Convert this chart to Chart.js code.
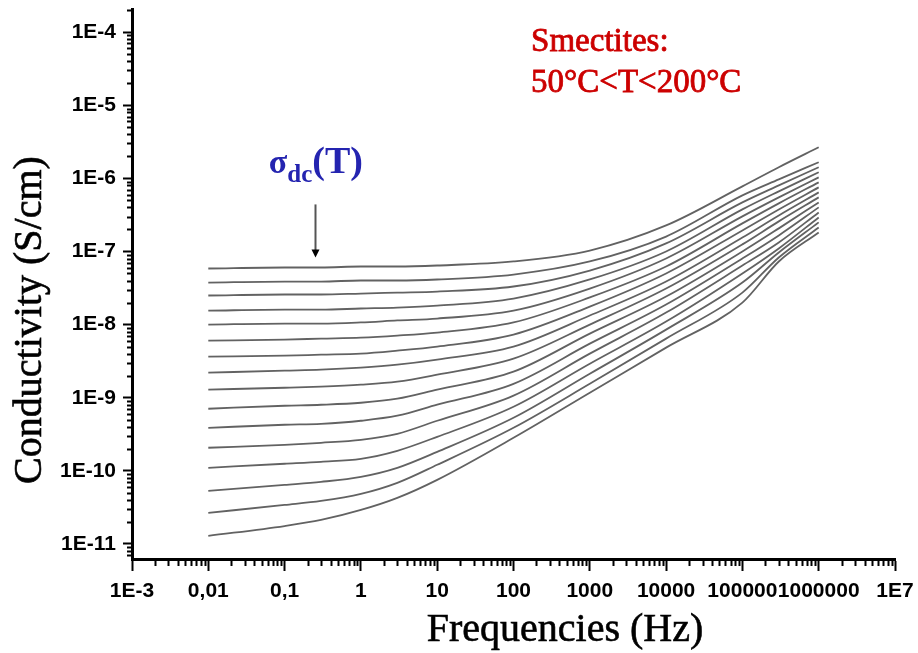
<!DOCTYPE html>
<html>
<head>
<meta charset="utf-8">
<script src="https://cdn.jsdelivr.net/npm/chart.js@4.4.1/dist/chart.umd.min.js"></script>
<style>
  html, body { margin: 0; padding: 0; background: #fff; }
  canvas { display: block; }
</style>
</head>
<body>
<canvas id="condChart" width="918" height="653"></canvas>
<script>
// frequencies (Hz) where the curves were read
var freqs = [0.01, 0.1, 0.3, 1, 3, 10, 100, 1000, 10000, 100000, 300000, 1000000];

// conductivity (S/cm), one curve per temperature, highest first
var curve1  = [5.85e-8, 6.04e-8, 6.04e-8, 6.23e-8, 6.23e-8, 6.43e-8, 7.30e-8, 1.03e-7, 2.27e-7, 7.77e-7, 1.42e-6, 2.66e-6];
var curve2  = [3.76e-8, 3.88e-8, 3.88e-8, 4.01e-8, 4.01e-8, 4.14e-8, 4.84e-8, 7.30e-8, 1.60e-7, 5.85e-7, 9.69e-7, 1.66e-6];
var curve3  = [2.50e-8, 2.58e-8, 2.58e-8, 2.66e-8, 2.74e-8, 2.83e-8, 3.32e-8, 5.49e-8, 1.29e-7, 4.69e-7, 8.02e-7, 1.42e-6];
var curve4  = [1.55e-8, 1.60e-8, 1.60e-8, 1.66e-8, 1.71e-8, 1.82e-8, 2.27e-8, 4.14e-8, 1.00e-7, 3.76e-7, 6.64e-7, 1.21e-6];
var curve5  = [1.00e-8, 1.03e-8, 1.03e-8, 1.07e-8, 1.14e-8, 1.21e-8, 1.55e-8, 3.11e-8, 8.02e-8, 3.02e-7, 5.49e-7, 1.03e-6];
var curve6  = [6.04e-9, 6.23e-9, 6.43e-9, 6.64e-9, 7.07e-9, 7.77e-9, 1.07e-8, 2.35e-8, 6.23e-8, 2.42e-7, 4.55e-7, 8.82e-7];
var curve7  = [3.64e-9, 3.76e-9, 3.88e-9, 4.01e-9, 4.40e-9, 5.00e-9, 7.30e-9, 1.76e-8, 5.00e-8, 1.94e-7, 3.76e-7, 7.53e-7];
var curve8  = [2.20e-9, 2.35e-9, 2.42e-9, 2.58e-9, 2.83e-9, 3.32e-9, 5.00e-9, 1.33e-8, 3.88e-8, 1.55e-7, 3.11e-7, 6.43e-7];
var curve9  = [1.29e-9, 1.37e-9, 1.42e-9, 1.51e-9, 1.66e-9, 2.07e-9, 3.42e-9, 1.00e-8, 3.11e-8, 1.25e-7, 2.58e-7, 5.49e-7];
var curve10 = [7.07e-10, 7.77e-10, 8.02e-10, 8.54e-10, 9.69e-10, 1.29e-9, 2.27e-9, 7.53e-9, 2.42e-8, 1.00e-7, 2.07e-7, 4.69e-7];
var curve11 = [3.88e-10, 4.27e-10, 4.40e-10, 4.84e-10, 5.67e-10, 8.02e-10, 1.55e-9, 5.49e-9, 1.88e-8, 8.02e-8, 1.66e-7, 4.01e-7];
var curve12 = [2.07e-10, 2.27e-10, 2.42e-10, 2.66e-10, 3.21e-10, 4.84e-10, 1.07e-9, 4.01e-9, 1.46e-8, 6.43e-8, 1.33e-7, 3.42e-7];
var curve13 = [1.10e-10, 1.25e-10, 1.33e-10, 1.46e-10, 1.88e-10, 2.92e-10, 7.53e-10, 2.92e-9, 1.10e-8, 5.00e-8, 1.10e-7, 2.92e-7];
var curve14 = [5.32e-11, 6.43e-11, 7.07e-11, 8.28e-11, 1.10e-10, 1.82e-10, 5.32e-10, 2.13e-9, 8.54e-9, 3.76e-8, 9.69e-8, 2.50e-7];
var curve15 = [2.66e-11, 3.42e-11, 3.88e-11, 4.84e-11, 6.85e-11, 1.21e-10, 3.88e-10, 1.55e-9, 6.43e-9, 2.74e-8, 8.28e-8, 2.13e-7];
var curve16 = [1.29e-11, 1.76e-11, 2.13e-11, 2.92e-11, 4.27e-11, 7.53e-11, 2.83e-10, 1.17e-9, 4.84e-9, 2.00e-8, 7.30e-8, 1.82e-7];

var curves = [curve1, curve2, curve3, curve4, curve5, curve6, curve7, curve8,
              curve9, curve10, curve11, curve12, curve13, curve14, curve15, curve16];

var xTickValues = [1e-3, 1e-2, 1e-1, 1, 10, 100, 1000, 1e4, 1e5, 1e6, 1e7];
var xTickLabels = ['1E-3', '0,01', '0,1', '1', '10', '100', '1000', '10000', '100000', '1000000', '1E7'];
var yTickValues = [1e-11, 1e-10, 1e-9, 1e-8, 1e-7, 1e-6, 1e-5, 1e-4];
var yTickLabels = ['1E-11', '1E-10', '1E-9', '1E-8', '1E-7', '1E-6', '1E-5', '1E-4'];

function labelFor(values, labels, v) {
    for (var i = 0; i < values.length; i++) {
        if (Math.abs(Math.log10(values[i]) - Math.log10(v)) < 1e-6) return labels[i];
    }
    return '';
}

var datasets = curves.map(function (c, k) {
    return {
        label: 'curve ' + (k + 1),
        data: freqs.map(function (f, i) { return { x: f, y: c[i] }; }),
        borderColor: '#626262',
        borderWidth: 1.8,
        pointRadius: 0,
        fill: false,
        cubicInterpolationMode: 'monotone'
    };
});

// minor ticks, axis titles and the two notes
var extras = {
    id: 'extras',
    afterDraw: function (chart) {
        var ctx = chart.ctx, xs = chart.scales.x, ys = chart.scales.y, a = chart.chartArea;
        ctx.save();
        ctx.strokeStyle = '#000';
        ctx.lineWidth = 2;
        ctx.beginPath();
        for (var e = -3; e < 7; e++) {
            for (var m = 2; m < 10; m++) {
                var px = Math.round(xs.getPixelForValue(m * Math.pow(10, e))) + 0.5;
                ctx.moveTo(px, a.bottom);
                ctx.lineTo(px, a.bottom + 7);
            }
        }
        for (var e2 = -12; e2 < -3; e2++) {
            for (var m2 = 2; m2 < 10; m2++) {
                var v = m2 * Math.pow(10, e2);
                if (v < ys.min || v > ys.max) continue;
                var py = Math.round(ys.getPixelForValue(v)) + 0.5;
                ctx.moveTo(a.left, py);
                ctx.lineTo(a.left - 5, py);
            }
        }
        ctx.stroke();

        // axis titles
        ctx.fillStyle = '#000';
        ctx.strokeStyle = '#000';
        ctx.lineWidth = 0.6;
        ctx.font = '40px "Liberation Serif"';
        ctx.textAlign = 'center';
        ctx.textBaseline = 'middle';
        ctx.fillText('Frequencies (Hz)', 565, 630);
        ctx.strokeText('Frequencies (Hz)', 565, 630);
        ctx.save();
        ctx.translate(30, 320);
        ctx.rotate(-Math.PI / 2);
        ctx.fillText('Conductivity (S/cm)', 0, 0);
        ctx.strokeText('Conductivity (S/cm)', 0, 0);
        ctx.restore();

        // sample note
        ctx.textAlign = 'left';
        ctx.textBaseline = 'alphabetic';
        ctx.fillStyle = '#cc0000';
        ctx.strokeStyle = '#cc0000';
        ctx.lineWidth = 0.8;
        ctx.font = '33px "Liberation Serif"';
        var nx = xs.getPixelForValue(170);
        var ny1 = ys.getPixelForValue(5.5e-5), ny2 = ys.getPixelForValue(1.5e-5);
        ctx.fillText('Smectites:', nx, ny1);
        ctx.strokeText('Smectites:', nx, ny1);
        ctx.fillText('50\u00B0C<T<200\u00B0C', nx, ny2);
        ctx.strokeText('50\u00B0C<T<200\u00B0C', nx, ny2);

        // sigma_dc(T) label
        ctx.fillStyle = '#2424b0';
        var sx = xs.getPixelForValue(0.062), sy = ys.getPixelForValue(1.17e-6);
        ctx.font = 'bold 34px "Liberation Serif"';
        ctx.fillText('\u03C3', sx, sy);
        sx += ctx.measureText('\u03C3').width;
        ctx.font = 'bold 25px "Liberation Serif"';
        ctx.fillText('dc', sx, sy + 9);
        sx += ctx.measureText('dc').width;
        ctx.font = 'bold 38px "Liberation Serif"';
        ctx.fillText('(T)', sx, sy);

        // arrow
        var ax = Math.round(xs.getPixelForValue(0.25)) + 0.5;
        var ay0 = ys.getPixelForValue(4.4e-7), ay1 = ys.getPixelForValue(8.3e-8);
        ctx.strokeStyle = '#555';
        ctx.lineWidth = 2;
        ctx.beginPath();
        ctx.moveTo(ax, ay0);
        ctx.lineTo(ax, ay1 - 6);
        ctx.stroke();
        ctx.fillStyle = '#000';
        ctx.beginPath();
        ctx.moveTo(ax - 4, ay1 - 8);
        ctx.lineTo(ax + 4, ay1 - 8);
        ctx.lineTo(ax, ay1);
        ctx.closePath();
        ctx.fill();
        ctx.restore();
    }
};

var whiteBg = {
    id: 'whiteBg',
    beforeDraw: function (chart) {
        var ctx = chart.ctx;
        ctx.save();
        ctx.fillStyle = '#fff';
        ctx.fillRect(0, 0, chart.width, chart.height);
        ctx.restore();
    }
};

var ctx = document.getElementById('condChart').getContext('2d');
var myChart = new Chart(ctx, {
    type: 'line',
    data: { datasets: datasets },
    plugins: [whiteBg, extras],
    options: {
        responsive: false,
        devicePixelRatio: 1,
        animation: false,
        layout: { padding: { left: 0, right: 23, top: 9, bottom: 0 } },
        plugins: {
            legend: { display: false },
            tooltip: { enabled: false }
        },
        scales: {
            x: {
                type: 'logarithmic',
                min: 1e-3,
                max: 1e7,
                afterBuildTicks: function (scale) {
                    scale.ticks = xTickValues.map(function (v) { return { value: v }; });
                },
                afterFit: function (scale) {
                    scale.height = 94;
                    scale.paddingLeft = 0;
                    scale.paddingRight = 0;
                },
                border: { display: true, color: '#000', width: 3 },
                grid: { drawOnChartArea: false, drawTicks: true, tickLength: 12, tickWidth: 2, tickColor: '#000' },
                ticks: {
                    autoSkip: false,
                    maxRotation: 0,
                    padding: 8,
                    color: '#000',
                    font: { family: '"Liberation Sans"', size: 21, weight: 'bold' },
                    callback: function (value) { return labelFor(xTickValues, xTickLabels, value); }
                }
            },
            y: {
                type: 'logarithmic',
                min: 6.23e-12,
                max: 2.07e-4,
                afterBuildTicks: function (scale) {
                    scale.ticks = yTickValues.map(function (v) { return { value: v }; });
                },
                afterFit: function (scale) {
                    scale.width = 132;
                    scale.paddingTop = 0;
                    scale.paddingBottom = 0;
                },
                border: { display: true, color: '#000', width: 3 },
                grid: { drawOnChartArea: false, drawTicks: true, tickLength: 9, tickWidth: 2, tickColor: '#000' },
                ticks: {
                    autoSkip: false,
                    padding: 7,
                    color: '#000',
                    font: { family: '"Liberation Sans"', size: 21, weight: 'bold' },
                    callback: function (value) { return labelFor(yTickValues, yTickLabels, value); }
                }
            }
        }
    }
});
</script>
</body>
</html>
